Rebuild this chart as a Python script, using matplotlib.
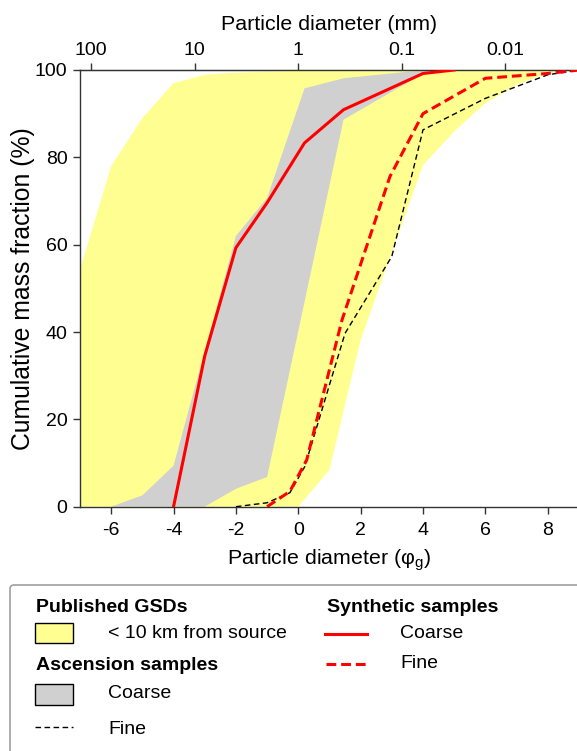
import matplotlib
matplotlib.use("Agg")
import matplotlib.pyplot as plt
import numpy as np
from matplotlib.patches import FancyBboxPatch, Rectangle

plt.rcParams['font.family'] = ['Liberation Sans', 'DejaVu Sans']
plt.rcParams['mathtext.fontset'] = 'custom'
plt.rcParams['mathtext.rm'] = 'Liberation Sans'

# Published GSDs (< 10 km from source) envelope
pub_upper_phi = [-7, -6, -5, -4, -3, -2, 0, 2, 9]
pub_upper_pct = [54.3, 78, 89, 97, 98.9, 99.4, 99.8, 100, 100]
pub_lower_phi = [-7, 0, 1, 2, 4, 5, 6, 7, 8, 9]
pub_lower_pct = [0, 0, 8.4, 38.2, 78.2, 85.9, 92.4, 96.6, 99.3, 100]

# Ascension coarse envelope
asc_upper_phi = [-6, -5, -4, -2, -1, 0.2, 1.45, 3.5, 5]
asc_upper_pct = [0, 2.6, 9.4, 62, 70.7, 95.8, 98.1, 99.6, 100]
asc_lower_phi = [-6, -3, -2, -1, 1.45, 4, 5]
asc_lower_pct = [0, 0, 4.1, 6.8, 88.6, 99.2, 100]

# Ascension fine
asc_fine_phi = [-2, -1, -0.27, 0.21, 1.5, 3, 4, 6, 8, 9]
asc_fine_pct = [0, 0.9, 3.2, 9.2, 39.7, 57.3, 86.3, 93.5, 98.9, 100]

# Synthetic coarse
syn_coarse_phi = [-4, -3, -2, -1, 0.2, 1.45, 4, 5]
syn_coarse_pct = [0, 34.5, 59.3, 69.6, 83.3, 90.9, 99.2, 100]

# Synthetic fine
syn_fine_phi = [-1, -0.27, 0.27, 1.4, 2.94, 4, 6, 8, 9]
syn_fine_pct = [0, 3.5, 10.7, 42.7, 75.6, 90, 98.1, 99.2, 100]

top_mm = [100, 10, 1, 0.1, 0.01]
top_labels = ['100', '10', '1', '0.1', '0.01']
bottom_ticks = [-6, -4, -2, 0, 2, 4, 6, 8]
left_ticks = [0, 20, 40, 60, 80, 100]

YELLOW = '#ffff91'
GRAY = '#d0d0d0'
SPINE = '#333333'

W, H = 577, 751
fig = plt.figure(figsize=(W / 100, H / 100), dpi=100)
ax = fig.add_axes([80.0 / W, 1 - 506.7 / H, (578.9 - 80.0) / W, (506.7 - 70) / H])

ax.fill(pub_upper_phi + pub_lower_phi[::-1], pub_upper_pct + pub_lower_pct[::-1],
        color=YELLOW, lw=0, zorder=1)
ax.fill(asc_upper_phi + asc_lower_phi[::-1], asc_upper_pct + asc_lower_pct[::-1],
        color=GRAY, lw=0, zorder=2)
ax.plot(asc_fine_phi, asc_fine_pct, color='black', lw=1.0, dashes=(4, 2.5), zorder=3)
ax.plot(syn_fine_phi, syn_fine_pct, color='red', lw=2.2, dashes=(3.2, 1.6), zorder=4)
ax.plot(syn_coarse_phi, syn_coarse_pct, color='red', lw=2.2, zorder=5)

TICK_FS = 14
ax.set_xlim(-7, 9)
ax.set_ylim(0, 100)
ax.set_xticks(bottom_ticks)
ax.set_xticklabels([str(t) for t in bottom_ticks])
ax.set_yticks(left_ticks)
ax.tick_params(axis='both', direction='out', length=5, width=1, color=SPINE,
               labelsize=TICK_FS, pad=4)
ax.tick_params(axis='x', pad=6)
for s in ax.spines.values():
    s.set_color(SPINE)
    s.set_linewidth(1.0)
ax.set_xlabel('Particle diameter (φ$_{\\mathregular{g}}$)', fontsize=15.4, labelpad=6)
ax.set_ylabel('Cumulative mass fraction (%)', fontsize=17.8, labelpad=0)

sec = ax.secondary_xaxis('top', functions=(lambda p: 2.0 ** (-np.asarray(p, dtype=float)),
                                           lambda d: -np.log2(np.asarray(d, dtype=float))))
sec.set_xticks(top_mm)
sec.set_xticklabels(top_labels)
sec.tick_params(direction='out', length=5, width=1, color=SPINE, labelsize=TICK_FS, pad=3)
sec.set_xlabel('Particle diameter (mm)', fontsize=15.4, labelpad=8.5)
sec.spines['top'].set_color(SPINE)
sec.minorticks_off()

# Legend (manual, in pixel coordinates)
lax = fig.add_axes([0, 0, 1, 1], zorder=10)
lax.set_xlim(0, W)
lax.set_ylim(H, 0)
lax.axis('off')
lax.add_patch(FancyBboxPatch((10, 585), 590, 200, boxstyle='round,pad=0,rounding_size=4',
                             fc='white', ec='#a0a0a0', lw=1.2))
fs = 14
lax.text(36, 607, 'Published GSDs', fontsize=fs, fontweight='bold', va='center', ha='left')
lax.add_patch(Rectangle((35, 623), 38, 20, fc=YELLOW, ec='black', lw=1))
lax.text(108, 634, '< 10 km from source', fontsize=fs, va='center', ha='left')
lax.text(36, 665, 'Ascension samples', fontsize=fs, fontweight='bold', va='center', ha='left')
lax.add_patch(Rectangle((35, 684), 38, 21, fc=GRAY, ec='black', lw=1))
lax.text(108, 694, 'Coarse', fontsize=fs, va='center', ha='left')
lax.plot([35, 73], [727, 727], color='black', lw=1.0, dashes=(4, 2.5))
lax.text(108, 730, 'Fine', fontsize=fs, va='center', ha='left')
lax.text(327, 607, 'Synthetic samples', fontsize=fs, fontweight='bold', va='center', ha='left')
lax.plot([325, 367], [634, 634], color='red', lw=2.2)
lax.text(400, 634, 'Coarse', fontsize=fs, va='center', ha='left')
lax.plot([326, 367], [664, 664], color='red', lw=2.2, dashes=(3.2, 1.6))
lax.text(400, 664, 'Fine', fontsize=fs, va='center', ha='left')

fig.savefig('out.png', dpi=100)
